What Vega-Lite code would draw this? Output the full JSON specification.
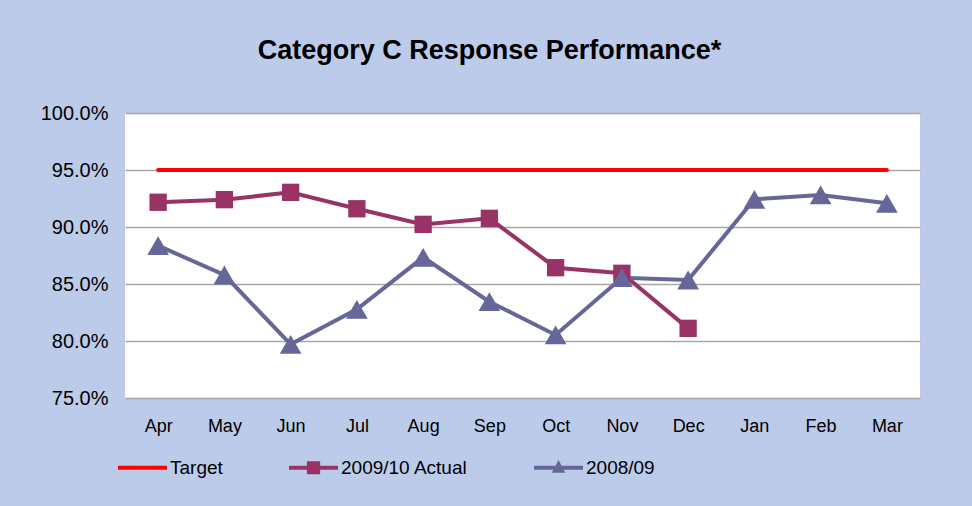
{
  "$schema": "https://vega.github.io/schema/vega-lite/v6.json",
  "autosize": "none",
  "width": 795,
  "height": 285,
  "padding": {"left": 125, "top": 113, "right": 52, "bottom": 108},
  "background": "#bccbea",
  "config": {
    "view": {"fill": "white", "stroke": null},
    "font": "Liberation Sans"
  },
  "title": {
    "text": "Category C Response Performance*",
    "font": "Liberation Sans",
    "fontSize": 27,
    "fontWeight": "bold",
    "color": "black",
    "anchor": "middle",
    "frame": "group",
    "dx": -33,
    "offset": 38
  },
  "data": {
    "values": [
      {"month": "Apr", "series": "Target", "value": 95},
      {"month": "May", "series": "Target", "value": 95},
      {"month": "Jun", "series": "Target", "value": 95},
      {"month": "Jul", "series": "Target", "value": 95},
      {"month": "Aug", "series": "Target", "value": 95},
      {"month": "Sep", "series": "Target", "value": 95},
      {"month": "Oct", "series": "Target", "value": 95},
      {"month": "Nov", "series": "Target", "value": 95},
      {"month": "Dec", "series": "Target", "value": 95},
      {"month": "Jan", "series": "Target", "value": 95},
      {"month": "Feb", "series": "Target", "value": 95},
      {"month": "Mar", "series": "Target", "value": 95},
      {"month": "Apr", "series": "2009/10 Actual", "value": 92.17},
      {"month": "May", "series": "2009/10 Actual", "value": 92.4},
      {"month": "Jun", "series": "2009/10 Actual", "value": 93.04},
      {"month": "Jul", "series": "2009/10 Actual", "value": 91.6},
      {"month": "Aug", "series": "2009/10 Actual", "value": 90.23},
      {"month": "Sep", "series": "2009/10 Actual", "value": 90.76},
      {"month": "Oct", "series": "2009/10 Actual", "value": 86.43},
      {"month": "Nov", "series": "2009/10 Actual", "value": 85.94},
      {"month": "Dec", "series": "2009/10 Actual", "value": 81.11},
      {"month": "Apr", "series": "2008/09", "value": 88.36},
      {"month": "May", "series": "2008/09", "value": 85.79},
      {"month": "Jun", "series": "2008/09", "value": 79.71},
      {"month": "Jul", "series": "2008/09", "value": 82.78},
      {"month": "Aug", "series": "2008/09", "value": 87.34},
      {"month": "Sep", "series": "2008/09", "value": 83.45},
      {"month": "Oct", "series": "2008/09", "value": 80.53},
      {"month": "Nov", "series": "2008/09", "value": 85.55},
      {"month": "Dec", "series": "2008/09", "value": 85.35},
      {"month": "Jan", "series": "2008/09", "value": 92.43},
      {"month": "Feb", "series": "2008/09", "value": 92.81},
      {"month": "Mar", "series": "2008/09", "value": 92.08}
    ]
  },
  "encoding": {
    "x": {
      "field": "month",
      "type": "ordinal",
      "sort": ["Apr", "May", "Jun", "Jul", "Aug", "Sep", "Oct", "Nov", "Dec", "Jan", "Feb", "Mar"],
      "scale": {"type": "point", "padding": 0.5},
      "axis": {
        "title": null,
        "labelAngle": 0,
        "labelFont": "Liberation Sans",
        "labelFontSize": 18,
        "labelColor": "black",
        "labelPadding": 19,
        "domain": false,
        "ticks": false,
        "grid": false
      }
    },
    "y": {
      "field": "value",
      "type": "quantitative",
      "scale": {"domain": [75, 100], "nice": false, "zero": false},
      "axis": {
        "title": null,
        "values": [75, 80, 85, 90, 95, 100],
        "labelExpr": "format(datum.value, '.1f') + '%'",
        "labelFont": "Liberation Sans",
        "labelFontSize": 20,
        "labelColor": "black",
        "labelPadding": 17,
        "domain": false,
        "ticks": false,
        "grid": true,
        "gridColor": "#a6a6a6",
        "gridWidth": 1.5
      }
    }
  },
  "layer": [
    {
      "mark": {"type": "line", "strokeWidth": 4, "strokeCap": "round"},
      "encoding": {
        "color": {
          "field": "series",
          "type": "nominal",
          "scale": {"domain": ["Target", "2009/10 Actual", "2008/09"], "range": ["#ff0000", "#993366", "#666699"]},
          "legend": {
            "title": null,
            "orient": "none",
            "direction": "horizontal",
            "legendX": -7,
            "legendY": 330,
            "padding": 0,
            "symbolSize": 2401,
            "labelOffset": 3,
            "columnPadding": 66,
            "labelFont": "Liberation Sans",
            "labelFontSize": 19,
            "labelColor": "black",
            "encode": {
              "symbols": {
                "update": {
                  "shape": {"signal": "datum.value === 'Target' ? 'M-1,-0.08H1V0.08H-1Z' : datum.value === '2009/10 Actual' ? 'M-1,-0.08H1V0.08H-1Z M-0.27,-0.27H0.27V0.27H-0.27Z' : 'M-1,-0.08H1V0.08H-1Z M-0.28,0.2L0,-0.32L0.28,0.2Z'"},
                  "fill": {"scale": "color", "field": "value"},
                  "fillOpacity": {"value": 1},
                  "opacity": {"value": 1},
                  "strokeWidth": {"value": 0}
                }
              }
            }
          }
        }
      }
    },
    {
      "transform": [{"filter": "datum.series !== 'Target'"}],
      "mark": {"type": "point", "filled": true, "opacity": 1},
      "encoding": {
        "color": {"field": "series", "type": "nominal"},
        "shape": {
          "field": "series",
          "type": "nominal",
          "scale": {"domain": ["2009/10 Actual", "2008/09"], "range": ["square", "triangle-up"]},
          "legend": null
        },
        "size": {
          "field": "series",
          "type": "nominal",
          "scale": {"domain": ["2009/10 Actual", "2008/09"], "range": [300, 470]},
          "legend": null
        }
      }
    }
  ]
}
